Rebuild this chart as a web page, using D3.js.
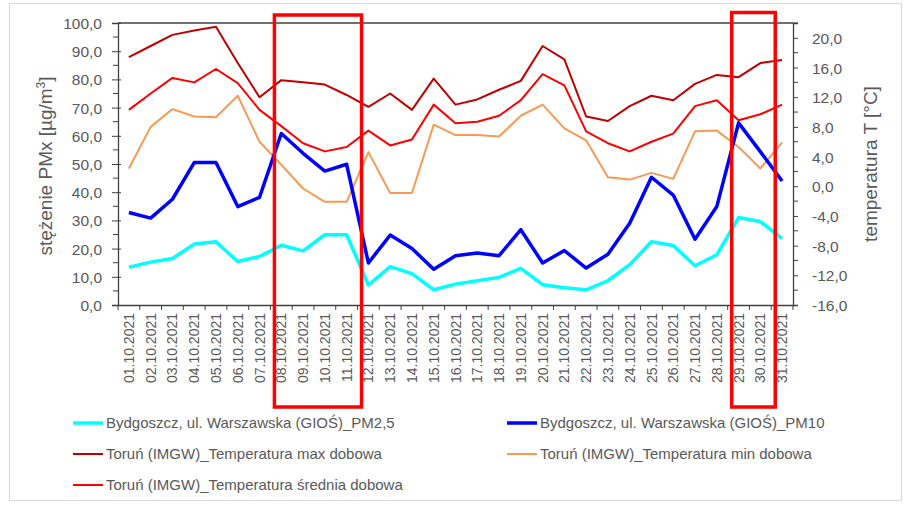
<!DOCTYPE html>
<html lang="pl">
<head>
<meta charset="UTF-8">
<script src="https://cdn.jsdelivr.net/npm/d3@7"></script>
<style>
  body { margin: 0; background: #fff; }
  text { fill: #595959; font-family: "Liberation Sans", Arial, sans-serif; }
</style>
</head>
<body>
<svg></svg>
<script>
// dni
const days = d3.range(1, 32).map(d => String(d).padStart(2, '0') + '.10.2021');

// stężenia [µg/m3] - oś lewa
const pm25 = [13.4, 15.2, 16.5, 21.6, 22.4, 15.4, 17.2, 21.2, 19.2, 24.9, 24.9, 7.1, 13.6, 11.1, 5.4, 7.4,
              8.6, 9.8, 13.0, 7.2, 6.1, 5.4, 8.6, 14.3, 22.4, 21.1, 13.9, 17.8, 31.0, 29.6, 23.5];
const pm10 = [32.8, 30.8, 37.5, 50.5, 50.5, 34.9, 38.2, 60.8, 53.8, 47.5, 49.9, 14.9, 24.8, 20.0, 12.7, 17.5,
              18.4, 17.5, 26.7, 14.9, 19.3, 13.1, 18.0, 29.0, 45.3, 39.0, 23.3, 34.9, 64.6, 54.4, 44.0];

// temperatury [°C] - oś prawa
const tMax = [17.4, 18.9, 20.4, 21.0, 21.5, 16.6, 12.0, 14.3, 14.0, 13.7, 12.3, 10.7, 12.5, 10.3, 14.5, 11.0,
              11.7, 13.0, 14.2, 18.9, 17.1, 9.4, 8.8, 10.8, 12.2, 11.6, 13.8, 15.0, 14.7, 16.6, 17.0];
const tMin = [2.4, 8.0, 10.4, 9.4, 9.3, 12.2, 6.0, 2.9, -0.3, -2.1, -2.1, 4.6, -0.9, -0.9, 8.3, 6.9,
              6.9, 6.7, 9.5, 11.0, 7.8, 6.2, 1.2, 0.9, 1.8, 1.0, 7.4, 7.5, 5.3, 2.4, 5.9];
const tAvg = [10.3, 12.5, 14.6, 14.0, 15.8, 13.9, 10.3, 8.1, 5.8, 4.7, 5.3, 7.5, 5.5, 6.3, 11.0, 8.5,
              8.7, 9.5, 11.6, 15.1, 13.6, 7.4, 5.8, 4.7, 6.0, 7.1, 10.8, 11.6, 8.9, 9.7, 11.0];

const leftTicks = d3.range(0, 101, 10);
const rightTicks = d3.range(-16, 21, 4);

// zaznaczone okresy
const marked = [['08.10.2021', '11.10.2021'], ['29.10.2021', '30.10.2021']];

const W = 917, H = 511;
const svg = d3.select('svg').attr('width', W).attr('height', H);

svg.append('rect').attr('x', 9.5).attr('y', 3.5).attr('width', 892).attr('height', 497)
  .attr('fill', '#fff').attr('stroke', '#d9d9d9');

const m = {l: 118, r: 793, t: 23, b: 305};

const x = d3.scaleBand().domain(days).range([m.l, m.r]).padding(0);
const cx = d => x(d) + x.bandwidth() / 2;
const yL = d3.scaleLinear().domain([0, 100]).range([m.b, m.t]);
const yR = d3.scaleLinear().domain([-16, 22]).range([m.b, m.t]);
const fmt = v => v.toFixed(1).replace('.', ',');

// ramka obszaru wykresu
svg.append('line').attr('x1', m.l).attr('x2', m.r).attr('y1', m.t).attr('y2', m.t)
  .attr('stroke', '#404040').attr('stroke-width', 1.3);

// oś lewa
const gl = svg.append('g').attr('transform', `translate(${m.l},0)`)
  .call(d3.axisLeft(yL).tickValues(leftTicks).tickFormat(fmt).tickSizeOuter(0).tickSize(6).tickPadding(10));
gl.selectAll('.tick line').attr('x2', -6).attr('x1', 3);
gl.selectAll('.tick text').style('font-size', '15.5px').attr('dy', '0.36em');
gl.selectAll('.minor').data(d3.range(5, 100, 10)).enter().append('line')
  .attr('x1', -5).attr('x2', 0).attr('y1', d => yL(d)).attr('y2', d => yL(d)).attr('stroke', '#404040');

// oś prawa
const gr = svg.append('g').attr('transform', `translate(${m.r},0)`)
  .call(d3.axisRight(yR).tickValues(rightTicks).tickFormat(fmt).tickSizeOuter(0).tickSize(5).tickPadding(14));
gr.selectAll('.tick text').style('font-size', '15.5px').attr('dy', '0.36em');
gr.selectAll('.minor').data(d3.range(-14, 23, 4)).enter().append('line')
  .attr('x1', 0).attr('x2', 5).attr('y1', d => yR(d)).attr('y2', d => yR(d)).attr('stroke', '#404040');

// oś dolna
const gb = svg.append('g').attr('transform', `translate(0,${m.b})`)
  .call(d3.axisBottom(x).tickSize(0).tickSizeOuter(0).tickPadding(8));
gb.selectAll('.tick text')
  .attr('transform', 'rotate(-90)').attr('text-anchor', 'end')
  .attr('x', -8).attr('y', 0).attr('dy', '0.36em')
  .style('font-size', '14px');
gb.selectAll('.bnd').data(days.concat(['end'])).enter().append('line')
  .attr('x1', (d, i) => m.l + i * x.bandwidth()).attr('x2', (d, i) => m.l + i * x.bandwidth())
  .attr('y1', 0).attr('y2', 5).attr('stroke', '#404040');
svg.selectAll('.domain').attr('stroke', '#404040').attr('stroke-width', 1.3);
svg.selectAll('.tick line').attr('stroke', '#404040');

// serie
const series = [
  {name: 'Toruń (IMGW)_Temperatura max dobowa', data: tMax, y: yR, color: '#c00000', w: 2},
  {name: 'Toruń (IMGW)_Temperatura min dobowa', data: tMin, y: yR, color: '#f79a55', w: 2},
  {name: 'Toruń (IMGW)_Temperatura średnia dobowa', data: tAvg, y: yR, color: '#ff0000', w: 2},
  {name: 'Bydgoszcz, ul. Warszawska (GIOŚ)_PM2,5', data: pm25, y: yL, color: '#00ffff', w: 3.5},
  {name: 'Bydgoszcz, ul. Warszawska (GIOŚ)_PM10', data: pm10, y: yL, color: '#0000ff', w: 3.5}
];
series.forEach(s => {
  const line = d3.line().x((d, i) => cx(days[i])).y(d => s.y(d));
  svg.append('path').datum(s.data).attr('d', line)
    .attr('fill', 'none').attr('stroke', s.color).attr('stroke-width', s.w)
    .attr('stroke-linejoin', 'round');
});

// prostokąty
const boxTop = [15, 12.5];
svg.selectAll('.mark').data(marked).enter().append('rect')
  .attr('x', d => x(d[0]) + 4)
  .attr('y', (d, i) => boxTop[i])
  .attr('width', d => x(d[1]) + x.bandwidth() + 4 - (x(d[0]) + 4))
  .attr('height', (d, i) => 407 - boxTop[i])
  .attr('fill', 'none').attr('stroke', '#ff0000').attr('stroke-width', 3.5);

// tytuły osi
svg.append('text').attr('transform', 'translate(52,166) rotate(-90)')
  .attr('text-anchor', 'middle').style('font-size', '19px')
  .html('stężenie PMx [µg/m<tspan dy="-7" style="font-size:12px">3</tspan><tspan dy="7">]</tspan>');
svg.append('text').attr('transform', 'translate(877,164) rotate(-90)')
  .attr('text-anchor', 'middle').style('font-size', '19px')
  .text('temperatura T [°C]');

// legenda
const legOrder = [3, 4, 0, 1, 2];
const leg = svg.append('g');
legOrder.forEach((k, i) => {
  const s = series[k];
  const lx = i % 2 === 0 ? 73 : 507;
  const ly = 423 + Math.floor(i / 2) * 31;
  leg.append('line').attr('x1', lx).attr('x2', lx + 30).attr('y1', ly).attr('y2', ly)
    .attr('stroke', s.color).attr('stroke-width', s.w);
  leg.append('text').attr('x', lx + 33).attr('y', ly).attr('dy', '0.35em')
    .style('font-size', '15px').text(s.name);
});
</script>
</body>
</html>
